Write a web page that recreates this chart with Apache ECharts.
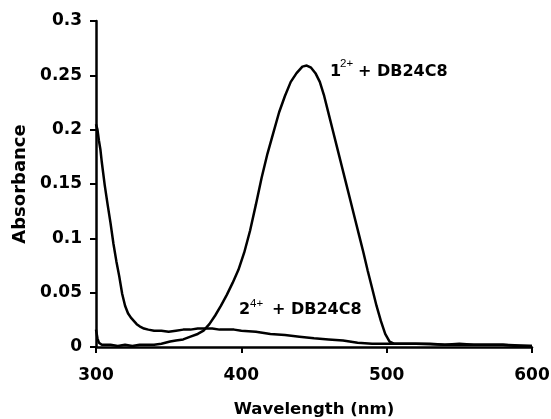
<!DOCTYPE html>
<html>
<head>
<meta charset="utf-8">
<script src="https://cdn.jsdelivr.net/npm/echarts@6/dist/echarts.min.js"></script>
<style>
html,body{margin:0;padding:0;background:#fff;}
#chart{width:551px;height:419px;}
</style>
</head>
<body>
<div id="chart"></div>
<script>
// Series 1: 1(2+) + DB24C8
var wl1 = [300,301,302,304,310,315,320,325,330,335,340,345,351,355,360,365,370,374,378,382,386,390,394,398,402,406,410,414,418,422,426,430,434,438,442,445,448,451,454,457,460,463,466,469,472,475,478,481,484,487,490,493,496,499,502,505,510,520,530,540,550,560,570,580,590,600];
var abs1 = [0.016,0.008,0.004,0.002,0.002,0.001,0.002,0.001,0.002,0.002,0.002,0.003,0.005,0.006,0.007,0.0095,0.012,0.015,0.021,0.029,0.038,0.048,0.059,0.071,0.087,0.107,0.131,0.156,0.178,0.197,0.216,0.231,0.244,0.252,0.258,0.259,0.257,0.252,0.244,0.231,0.215,0.199,0.183,0.167,0.151,0.135,0.119,0.103,0.087,0.070,0.054,0.038,0.024,0.012,0.005,0.003,0.003,0.003,0.003,0.002,0.003,0.002,0.002,0.002,0.001,0.001];
// Series 2: 2(4+) + DB24C8
var wl2 = [300,301,302,303,304,306,308,310,312,314,316,318,320,322,324,326,328,330,333,336,340,345,350,355,360,365,370,375,380,385,390,395,400,410,420,430,440,450,460,470,480,490,500,520,540,560,580,600];
var abs2 = [0.205,0.200,0.190,0.182,0.170,0.149,0.131,0.114,0.095,0.079,0.065,0.049,0.038,0.031,0.027,0.024,0.021,0.019,0.017,0.016,0.015,0.015,0.014,0.015,0.016,0.016,0.017,0.017,0.017,0.016,0.016,0.016,0.015,0.014,0.012,0.011,0.0095,0.008,0.007,0.006,0.004,0.003,0.003,0.003,0.002,0.002,0.002,0.001];
var xTicks = [300, 600, 100];      // min, max, interval
var yTicks = [0, 0.3, 0.05];

function pairs(xs, ys){ return xs.map(function(x,i){ return [x, ys[i]]; }); }

var F = '"DejaVu Sans", sans-serif';
var chart = echarts.init(document.getElementById('chart'), null, {renderer:'canvas'});
chart.setOption({
  animation: false,
  backgroundColor: '#fff',
  grid: {left: 96, right: 19, top: 21, bottom: 72, containLabel: false, outerBoundsMode: 'none'},
  xAxis: {
    type: 'value', min: xTicks[0], max: xTicks[1], interval: xTicks[2],
    name: 'Wavelength (nm)', nameLocation: 'middle', nameGap: 54,
    nameTextStyle: {fontFamily: F, fontWeight: 'bold', fontSize: 16.5, color: '#000'},
    axisLine: {show: true, onZero: false, lineStyle: {color: '#000', width: 2.5}},
    axisTick: {show: true, inside: false, length: 6, lineStyle: {color: '#000', width: 2}},
    axisLabel: {fontFamily: F, fontWeight: 'bold', fontSize: 17, color: '#000', margin: 20},
    splitLine: {show: false}
  },
  yAxis: {
    type: 'value', min: yTicks[0], max: yTicks[1], interval: yTicks[2],
    name: 'Absorbance', nameLocation: 'middle', nameGap: 63, nameRotate: 90,
    nameTextStyle: {fontFamily: F, fontWeight: 'bold', fontSize: 18, color: '#000'},
    axisLine: {show: true, onZero: false, lineStyle: {color: '#000', width: 2.5}},
    axisTick: {show: true, inside: false, length: 6, lineStyle: {color: '#000', width: 2}},
    axisLabel: {fontFamily: F, fontWeight: 'bold', fontSize: 17, color: '#000', margin: 14},
    splitLine: {show: false}
  },
  series: [
    {type: 'line', name: '1', data: pairs(wl1, abs1), showSymbol: false, symbol: 'none',
     lineStyle: {color: '#000', width: 2.5}, z: 3},
    {type: 'line', name: '2', data: pairs(wl2, abs2), showSymbol: false, symbol: 'none',
     lineStyle: {color: '#000', width: 2.5}, z: 3}
  ],
  graphic: [
    {type: 'text', left: 330, top: 64, style: {text: '1', font: 'bold 16px ' + F, fill: '#000'}},
    {type: 'text', left: 340, top: 58, style: {text: '2+', font: '11.5px "Liberation Sans", Arial, sans-serif', fill: '#000'}},
    {type: 'text', left: 358, top: 64, style: {text: '+ DB24C8', font: 'bold 16px ' + F, fill: '#000'}},
    {type: 'text', left: 239, top: 302, style: {text: '2', font: 'bold 16px ' + F, fill: '#000'}},
    {type: 'text', left: 250, top: 298, style: {text: '4+', font: '11.5px "Liberation Sans", Arial, sans-serif', fill: '#000'}},
    {type: 'text', left: 272, top: 302, style: {text: '+ DB24C8', font: 'bold 16px ' + F, fill: '#000'}}
  ]
});
</script>
</body>
</html>
